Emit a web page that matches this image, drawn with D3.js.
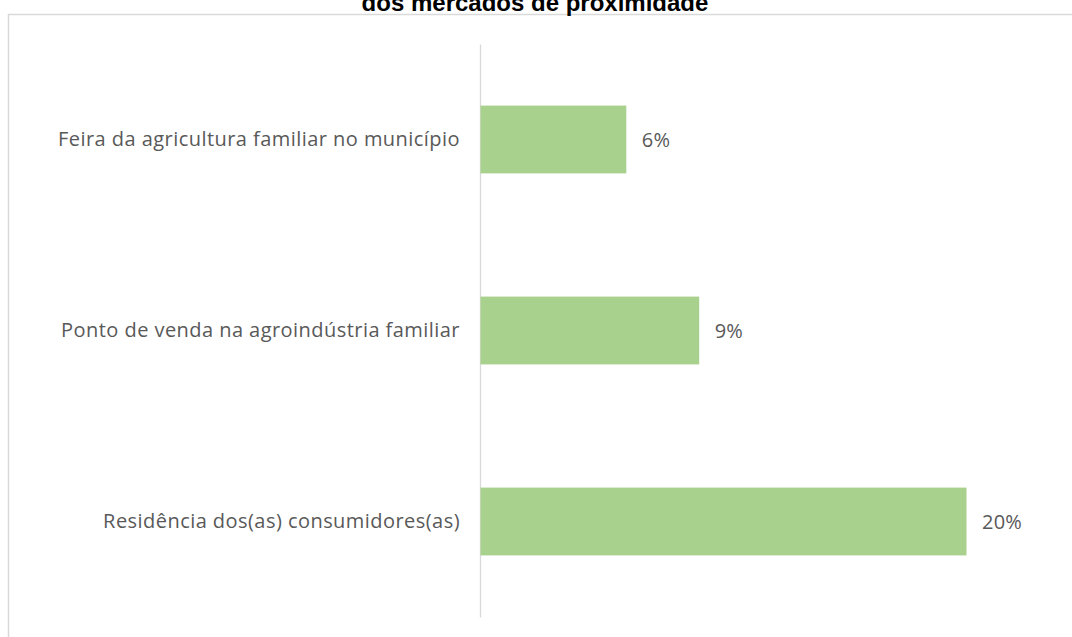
<!DOCTYPE html>
<html>
<head>
<meta charset="utf-8">
<script src="https://cdn.jsdelivr.net/npm/d3@7"></script>
<style>
  body { margin: 0; background: #fff; }
  svg { display: block; }
</style>
</head>
<body>
<div id="chart"></div>
<script>
const categories = [
    'Feira da agricultura familiar no município',
    'Ponto de venda na agroindústria familiar',
    'Residência dos(as) consumidores(as)'
];
const values = [0.06, 0.09, 0.20];
const titleLine = 'dos mercados de proximidade';

const width = 1072, height = 637;

const svg = d3.select('#chart').append('svg')
    .attr('width', width)
    .attr('height', height);

// chart frame (only top and left edges are in view)
svg.append('rect')
    .attr('x', 8.5)
    .attr('y', 14.5)
    .attr('width', 1200)
    .attr('height', 800)
    .attr('fill', 'none')
    .attr('stroke', '#d9d9d9')
    .attr('stroke-width', 1.5);

// title, cut off at the top like in the source
svg.append('text')
    .attr('x', 535)
    .attr('y', 11)
    .attr('text-anchor', 'middle')
    .attr('font-family', 'Liberation Sans, Arial, sans-serif')
    .attr('font-weight', 'bold')
    .attr('font-size', 24)
    .attr('fill', '#000')
    .text(titleLine);

const x = d3.scaleLinear()
    .domain([0, 0.2])
    .range([480, 966]);

const y = d3.scaleBand()
    .domain(categories)
    .range([44, 617])
    .paddingInner(0.645)
    .paddingOuter(0.3225);

const font = 'Open Sans, sans-serif';
const fontSize = 20;

// category axis
const yAxis = d3.axisLeft(y).tickSize(0).tickPadding(20);
const gy = svg.append('g')
    .attr('transform', `translate(${x(0)},0)`)
    .call(yAxis);
gy.select('.domain').attr('stroke', '#d9d9d9').attr('stroke-width', 1.3);
gy.selectAll('text')
    .attr('font-family', font)
    .attr('font-size', fontSize)
    .attr('letter-spacing', '0.45px')
    .attr('fill', '#595959');

// bars
svg.append('g').selectAll('rect')
    .data(values)
    .enter().append('rect')
    .attr('x', x(0) + 0.5)
    .attr('y', (d, i) => y(categories[i]))
    .attr('width', d => x(d) - x(0))
    .attr('height', y.bandwidth())
    .attr('fill', '#a9d18e');

// value labels
svg.append('g').selectAll('text')
    .data(values)
    .enter().append('text')
    .attr('x', d => x(d) + 16)
    .attr('y', (d, i) => y(categories[i]) + y.bandwidth() / 2)
    .attr('dy', '0.35em')
    .attr('font-family', font)
    .attr('font-size', fontSize)
    .attr('letter-spacing', '0.2px')
    .attr('fill', '#595959')
    .text(d => d3.format('.0%')(d));
</script>
</body>
</html>
